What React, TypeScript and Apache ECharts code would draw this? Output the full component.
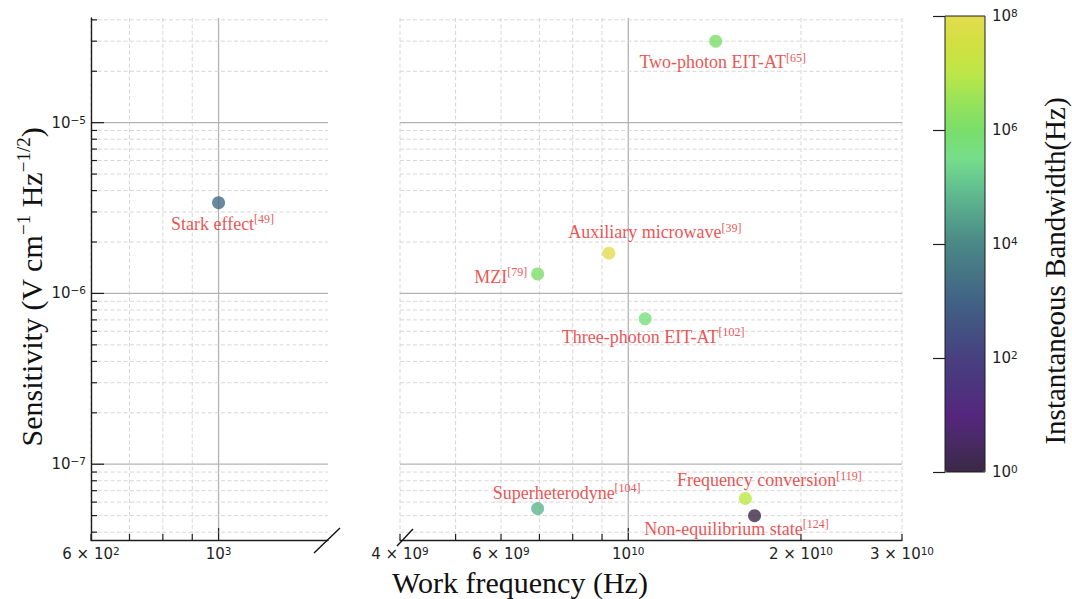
import React, { useEffect, useRef } from "react";
import * as echarts from "echarts";

// Rydberg-atom electrometry methods
const methods = [
  "Stark effect",
  "Two-photon EIT-AT",
  "Auxiliary microwave",
  "MZI",
  "Three-photon EIT-AT",
  "Superheterodyne",
  "Frequency conversion",
  "Non-equilibrium state",
];
const references = ["49", "65", "39", "79", "102", "104", "119", "124"];
const workFrequencyHz = [1e3, 1.42e10, 9.25e9, 6.95e9, 1.07e10, 6.95e9, 1.6e10, 1.66e10];
const sensitivity = [3.4e-6, 3.0e-5, 1.72e-6, 1.3e-6, 7.1e-7, 5.5e-8, 6.3e-8, 5.0e-8];
const bandwidthHz = [2e3, 1e6, 1e8, 1e6, 5e5, 6e4, 1e7, 1];

// axis extents
const leftXRange = [600, 1550];
const rightXRange = [4e9, 3e10];
const yRange = [3.6e-8, 4.1e-5];

// ticks
const leftXMajor = [1e3];
const leftXMinor = [600, 700, 800, 900];
const rightXMajor = [1e10];
const rightXMinor = [4e9, 5e9, 6e9, 7e9, 8e9, 9e9, 2e10, 3e10];
const yMajor = [1e-7, 1e-6, 1e-5];
const yMinor = [
  4e-8, 5e-8, 6e-8, 7e-8, 8e-8, 9e-8,
  2e-7, 3e-7, 4e-7, 5e-7, 6e-7, 7e-7, 8e-7, 9e-7,
  2e-6, 3e-6, 4e-6, 5e-6, 6e-6, 7e-6, 8e-6, 9e-6,
  2e-5, 3e-5, 4e-5,
];

// tick labels
const leftXLabelValues = [600, 1e3];
const leftXLabelTexts = ["6 × 10^2", "10^3"];
const rightXLabelValues = [4e9, 6e9, 1e10, 2e10, 3e10];
const rightXLabelTexts = ["4 × 10^9", "6 × 10^9", "10^10", "2 × 10^10", "3 × 10^10"];
const yLabelValues = [1e-7, 1e-6, 1e-5];
const yLabelTexts = ["10^−7", "10^−6", "10^−5"];

// colour bar (log10 of bandwidth)
const colorbarExponents = [0, 2, 4, 6, 8];
const colorbarStops = [
  "#3b2846", "#472a63", "#55267e", "#4c347e", "#484080", "#435182",
  "#416285", "#457585", "#4a8886", "#55a48c", "#62c190", "#76de8a",
  "#7ade6a", "#98e35a", "#bde746", "#d0e040", "#e3dc4d",
];

// label placement of each method around its marker
const labelPlacement: { position: string; distance: number; offset: number[] }[] = [
  { position: "bottom", distance: 4, offset: [4, 0] },
  { position: "bottom", distance: 4, offset: [7, 0] },
  { position: "top", distance: 4, offset: [46, 0] },
  { position: "left", distance: 4, offset: [0, 3] },
  { position: "bottom", distance: 1, offset: [8, 0] },
  { position: "top", distance: -1, offset: [29, 0] },
  { position: "top", distance: 1, offset: [24, 0] },
  { position: "bottom", distance: -1, offset: [-18, -3] },
];

const SERIF = "'Liberation Serif', 'Times New Roman', serif";
const SANS = "'DejaVu Sans', sans-serif";
const LABEL_RED = "#e8261f";
const INK = "#1e1e1e";

const tickRich = {
  b: { fontSize: 15, fontFamily: SANS, color: INK, fill: INK, lineHeight: 17 },
  s: { fontSize: 10.5, fontFamily: SANS, color: INK, fill: INK, lineHeight: 11, verticalAlign: "top" },
};

const toRich = (s: string) => {
  const [base, exp] = s.split("^");
  return `{b|${base}}{s|${exp}}`;
};

const majorGrid = { stroke: "#b3b3b3", lineWidth: 1.3 };
const minorGrid = { stroke: "#d6d6d6", lineWidth: 1, lineDash: [4, 2.5] };
const tickStyle = { stroke: INK, lineWidth: 1.2 };

function xDecor(
  gridIndex: number,
  majors: number[],
  minors: number[],
  labelValues: number[],
  labelTexts: string[]
) {
  const yRef = yRange[0];
  const data = [...minors.map((v) => [v, yRef, 0]), ...majors.map((v) => [v, yRef, 1])];
  return {
    type: "custom",
    xAxisIndex: gridIndex,
    yAxisIndex: gridIndex,
    silent: true,
    z: 1,
    clip: false,
    data,
    renderItem: (params: any, api: any) => {
      const v = api.value(0);
      const major = api.value(2) === 1;
      const cs = params.coordSys;
      const px = api.coord([v, yRef])[0];
      const bottom = cs.y + cs.height;
      const children: any[] = [
        { type: "line", shape: { x1: px, y1: cs.y, x2: px, y2: bottom }, style: major ? majorGrid : minorGrid },
        { type: "line", shape: { x1: px, y1: bottom, x2: px, y2: bottom - (major ? 12 : 6) }, style: tickStyle },
      ];
      const li = labelValues.indexOf(v);
      if (li >= 0) {
        children.push({
          type: "text",
          x: px,
          y: bottom + 5,
          style: { text: toRich(labelTexts[li]), rich: tickRich, align: "center", verticalAlign: "top" },
        });
      }
      return { type: "group", children };
    },
  };
}

function yDecor(
  gridIndex: number,
  xRef: number,
  withTicks: boolean,
  labelValues: number[],
  labelTexts: string[]
) {
  const data = [...yMinor.map((v) => [xRef, v, 0]), ...yMajor.map((v) => [xRef, v, 1])];
  return {
    type: "custom",
    xAxisIndex: gridIndex,
    yAxisIndex: gridIndex,
    silent: true,
    z: 1,
    clip: false,
    data,
    renderItem: (params: any, api: any) => {
      const v = api.value(1);
      const major = api.value(2) === 1;
      const cs = params.coordSys;
      const py = api.coord([xRef, v])[1];
      const children: any[] = [
        { type: "line", shape: { x1: cs.x, y1: py, x2: cs.x + cs.width, y2: py }, style: major ? majorGrid : minorGrid },
      ];
      if (withTicks) {
        children.push({
          type: "line",
          shape: { x1: cs.x, y1: py, x2: cs.x + (major ? 13 : 6), y2: py },
          style: tickStyle,
        });
      }
      const li = labelValues.indexOf(v);
      if (li >= 0) {
        children.push({
          type: "text",
          x: cs.x - 5,
          y: py,
          style: { text: toRich(labelTexts[li]), rich: tickRich, align: "right", verticalAlign: "middle" },
        });
      }
      return { type: "group", children };
    },
  };
}

function pointData(indices: number[]) {
  return indices.map((i) => ({
    value: [workFrequencyHz[i], sensitivity[i], Math.log10(bandwidthHz[i])],
    name: methods[i],
    label: {
      position: labelPlacement[i].position,
      distance: labelPlacement[i].distance,
      offset: labelPlacement[i].offset,
      formatter: `{n|${methods[i]}}{s|[${references[i]}]}`,
    },
  }));
}

const pointLabel = {
  show: true,
  rich: {
    n: { fontSize: 18, fontFamily: SERIF, color: LABEL_RED, lineHeight: 21 },
    s: { fontSize: 12, fontFamily: SERIF, color: LABEL_RED, lineHeight: 14, verticalAlign: "top" },
  },
};

const axisLineStyle = { show: true, lineStyle: { color: INK, width: 1.4 } };
const hidden = { show: false };

export default function App() {
  const ref = useRef<HTMLDivElement>(null);

  useEffect(() => {
    if (!ref.current) return;
    const chart = echarts.init(ref.current, undefined, { renderer: "svg" });

    const lowIdx = workFrequencyHz.map((f, i) => (f < 1e6 ? i : -1)).filter((i) => i >= 0);
    const highIdx = workFrequencyHz.map((f, i) => (f >= 1e6 ? i : -1)).filter((i) => i >= 0);

    const logAxis = (gridIndex: number, range: number[], lineShown: boolean) => ({
      type: "log",
      logBase: 10,
      gridIndex,
      min: range[0],
      max: range[1],
      axisLine: lineShown ? axisLineStyle : hidden,
      axisTick: hidden,
      axisLabel: hidden,
      splitLine: hidden,
      z: 3,
    });

    const titleRich = {
      t: { fontSize: 30, fontFamily: SERIF, fill: "#111", lineHeight: 34 },
      s: { fontSize: 19, fontFamily: SERIF, fill: "#111", lineHeight: 20, verticalAlign: "top" },
    };

    chart.setOption({
      animation: false,
      backgroundColor: "#ffffff",
      grid: [
        { left: 91, top: 18, width: 237, height: 522, outerBoundsMode: "none" },
        { left: 400, top: 18, width: 502, height: 522, outerBoundsMode: "none" },
        {
          left: 945, top: 16, width: 40, height: 456, outerBoundsMode: "none",
          show: true, borderColor: INK, borderWidth: 1, backgroundColor: "rgba(0,0,0,0)", z: 10,
        },
      ],
      xAxis: [
        logAxis(0, leftXRange, true),
        logAxis(1, rightXRange, true),
        { type: "value", gridIndex: 2, min: 0, max: 1, show: false },
      ],
      yAxis: [
        logAxis(0, yRange, true),
        logAxis(1, yRange, false),
        {
          type: "value",
          gridIndex: 2,
          position: "right",
          min: 0,
          max: 8,
          interval: 2,
          axisLine: hidden,
          axisTick: { show: true, inside: true, length: 12, lineStyle: { color: INK, width: 1.2 } },
          axisLabel: {
            margin: 7,
            formatter: (v: number) => (colorbarExponents.includes(v) ? `{b|10}{s|${v}}` : ""),
            rich: tickRich,
          },
          splitLine: hidden,
          z: 10,
        },
      ],
      visualMap: {
        type: "continuous",
        dimension: 2,
        seriesIndex: [0, 1],
        min: 0,
        max: 8,
        calculable: false,
        hoverLink: false,
        orient: "vertical",
        left: 945,
        top: 16,
        itemWidth: 40,
        itemHeight: 456,
        padding: 0,
        inRange: { color: colorbarStops },
      },
      series: [
        {
          type: "scatter",
          xAxisIndex: 0,
          yAxisIndex: 0,
          symbolSize: 13,
          z: 5,
          label: pointLabel,
          data: pointData(lowIdx),
        },
        {
          type: "scatter",
          xAxisIndex: 1,
          yAxisIndex: 1,
          symbolSize: 13,
          z: 5,
          label: pointLabel,
          data: pointData(highIdx),
        },
        xDecor(0, leftXMajor, leftXMinor, leftXLabelValues, leftXLabelTexts),
        yDecor(0, leftXRange[0], true, yLabelValues, yLabelTexts),
        xDecor(1, rightXMajor, rightXMinor, rightXLabelValues, rightXLabelTexts),
        yDecor(1, rightXRange[0], false, [], []),
      ],
      graphic: [
        // broken-axis marks
        { type: "line", shape: { x1: 314, y1: 553, x2: 340, y2: 528 }, style: { stroke: "#111", lineWidth: 1.4 }, z: 20 },
        { type: "line", shape: { x1: 397, y1: 546, x2: 413, y2: 529 }, style: { stroke: "#111", lineWidth: 1.4 }, z: 20 },
        {
          type: "text",
          x: 31,
          y: 287,
          rotation: Math.PI / 2,
          style: {
            text: "{t|Sensitivity (V cm}{s|−1}{t| Hz}{s|−1/2}{t|)}",
            rich: titleRich,
            align: "center",
            verticalAlign: "middle",
          },
        },
        {
          type: "text",
          x: 520,
          y: 582,
          style: {
            text: "Work frequency (Hz)",
            font: `30px ${SERIF}`,
            fill: "#111",
            align: "center",
            verticalAlign: "middle",
          },
        },
        {
          type: "text",
          x: 1055,
          y: 271,
          rotation: Math.PI / 2,
          style: {
            text: "Instantaneous Bandwidth(Hz)",
            font: `29px ${SERIF}`,
            fill: "#111",
            align: "center",
            verticalAlign: "middle",
          },
        },
      ],
    });

    return () => chart.dispose();
  }, []);

  return (
    <div
      ref={ref}
      style={{ position: "fixed", left: 0, top: 0, width: 1072, height: 599, background: "#fff" }}
    />
  );
}
